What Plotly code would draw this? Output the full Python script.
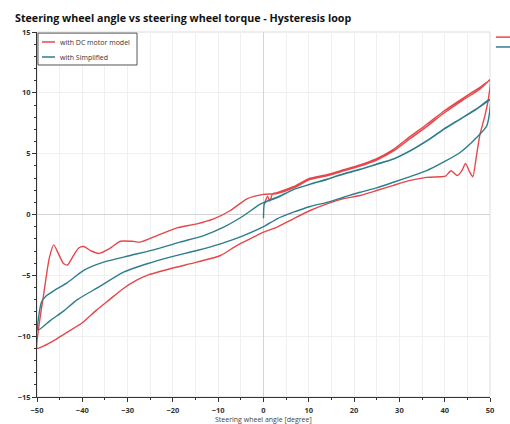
import plotly.graph_objects as go

# Steering wheel angle [deg] / torque [Nm] traces of the hysteresis loop

# DC motor model: first loading from centre, unloading branch, reloading branch
dc_angle = [
    0.3, 0.9, 1.4, 2.0, 3.0, 6.6, 10.3, 14.0, 17.7, 21.3, 25.0, 28.7, 32.4, 36.0, 40.0, 44.0, 47.8, 50.0,
    49.6, 48.8, 47.8, 47.0, 46.2, 45.5, 44.6, 43.8, 42.8, 41.4, 40.2, 39.0, 36.0, 32.4, 28.7, 25.0,
    21.3, 17.7, 14.0, 10.3, 6.6, 3.0, 0.0, -2.2, -5.9, -9.5, -14.7, -20.6, -25.7, -28.0, -31.0, -34.0,
    -37.0, -40.0, -43.0, -46.0, -48.5, -50.0,
    -49.7, -48.5, -47.3, -46.3, -45.3, -44.2, -43.3, -42.0, -40.8, -39.7, -38.0, -36.4, -34.0, -31.6,
    -29.0, -27.2, -23.5, -19.1, -14.7, -11.0, -7.3, -3.65, 0.0, 3.0, 6.6, 10.3, 14.0, 17.7, 21.3, 25.0,
    28.7, 32.4, 36.0, 40.0, 44.0, 47.8, 50.0,
]
dc_torque = [
    1.0, 1.5, 1.1, 1.7, 1.8, 2.28, 2.98, 3.28, 3.68, 4.08, 4.6, 5.36, 6.42, 7.4, 8.55, 9.55, 10.45, 11.0,
    9.4, 8.0, 6.6, 4.8, 3.1, 3.5, 4.2, 3.6, 3.2, 3.6, 3.15, 3.1, 3.05, 2.8, 2.4, 1.97,
    1.56, 1.3, 0.88, 0.33, -0.35, -1.04, -1.45, -1.86, -2.55, -3.37, -3.92, -4.46, -5.0, -5.4, -6.1, -7.0,
    -7.9, -8.9, -9.6, -10.3, -10.8, -11.0,
    -9.5, -6.5, -3.6, -2.5, -3.2, -4.0, -4.15, -3.4, -2.75, -2.63, -3.0, -3.2, -2.8, -2.2,
    -2.2, -2.27, -1.73, -1.1, -0.77, -0.36, 0.33, 1.29, 1.65, 1.72, 2.18, 2.88, 3.18, 3.58, 3.98, 4.48,
    5.22, 6.25, 7.22, 8.38, 9.4, 10.32, 11.1,
]

# Simplified model: same manoeuvre
simp_angle = [
    0.0, 0.2, 0.8, 3.0, 6.6, 10.3, 14.0, 17.7, 21.3, 25.0, 28.7, 32.4, 36.0, 39.7, 43.4, 47.1, 50.0,
    49.3, 47.1, 43.4, 39.7, 36.0, 32.4, 28.7, 25.0, 21.3, 17.7, 14.0, 10.3, 6.6, 3.0, 0.0, -4.4, -9.5,
    -14.7, -20.6, -25.7, -30.9, -36.4, -41.1, -44.0, -47.0, -49.8,
    -49.0, -48.0, -46.0, -43.3, -39.7, -35.3, -29.4, -23.5, -18.4, -13.2, -8.8, -4.4, -0.7, 3.0, 6.6,
    10.3, 14.0, 17.7, 21.3, 25.0, 28.7, 32.4, 36.0, 39.7, 43.4, 47.1, 50.0,
]
simp_torque = [
    -0.3, 0.9, 1.1, 1.42, 2.05, 2.5, 2.9, 3.35, 3.72, 4.15, 4.58, 5.25, 6.05, 7.0, 7.85, 8.7, 9.45,
    7.3, 6.35, 5.1, 4.3, 3.6, 3.12, 2.65, 2.19, 1.83, 1.42, 1.0, 0.66, 0.19, -0.35, -1.0, -1.73, -2.41,
    -2.96, -3.5, -4.05, -4.74, -5.97, -7.0, -7.9, -8.7, -9.5,
    -7.2, -6.7, -6.2, -5.6, -4.6, -3.92, -3.37, -2.82, -2.27, -1.73, -1.04, -0.1, 0.85, 1.38, 2.05,
    2.48, 2.88, 3.33, 3.7, 4.13, 4.55, 5.22, 6.02, 6.97, 7.82, 8.68, 9.45,
]

series_names = ["with DC motor model", "with Simplified"]

RED = "#e5474b"
TEAL = "#2d7d8d"
FONT = "Open Sans"
GRID = "#f0f0f0"

fig = go.Figure()
for xs, ys, name, col in [(dc_angle, dc_torque, series_names[0], RED),
                          (simp_angle, simp_torque, series_names[1], TEAL)]:
    fig.add_trace(go.Scatter(x=xs, y=ys, mode="lines", name=name, showlegend=False,
                             line=dict(color=col, width=1.4, shape="spline", smoothing=0.6)))

fig.update_layout(
    width=510, height=424,
    margin=dict(l=37, r=20, t=32, b=27),
    paper_bgcolor="white", plot_bgcolor="white",
    font=dict(family=FONT, color="#333"),
    title=dict(text="Steering wheel angle vs steering wheel torque - Hysteresis loop",
               font=dict(size=10.7, weight="bold", color="#111", family=FONT),
               xref="container", yref="container", x=15 / 510, y=1 - 18 / 424,
               xanchor="left", yanchor="middle"),
    xaxis=dict(
        range=[-50, 50], dtick=10, tick0=0, automargin=False,
        showline=True, linecolor="#333", linewidth=1,
        ticks="outside", ticklen=4, tickcolor="#333", ticklabelstandoff=2,
        tickfont=dict(size=7.5, weight="bold", color="#333"),
        showgrid=True, gridcolor=GRID, gridwidth=1,
        zeroline=True, zerolinecolor="#d4d4d4", zerolinewidth=1,
        minor=dict(dtick=5, ticks="outside", ticklen=2, tickcolor="#333",
                   showgrid=True, gridcolor=GRID),
    ),
    yaxis=dict(
        range=[-15, 15], dtick=5, tick0=0, automargin=False,
        showline=True, linecolor="#333", linewidth=1,
        ticks="outside", ticklen=4, tickcolor="#333",
        tickfont=dict(size=7.5, weight="bold", color="#333"),
        showgrid=True, gridcolor=GRID, gridwidth=1,
        zeroline=True, zerolinecolor="#d4d4d4", zerolinewidth=1,
        minor=dict(dtick=1, ticks="outside", ticklen=2, tickcolor="#333", showgrid=False),
    ),
    # extra horizontal grid at half-major spacing
    yaxis2=dict(
        overlaying="y", anchor="x", range=[-15, 15], dtick=2.5, tick0=0, automargin=False,
        showgrid=True, gridcolor=GRID, showticklabels=False, ticks="",
        showline=False, zeroline=False, layer="below traces",
    ),
)

# x-axis title placed in the narrow bottom margin
fig.add_annotation(xref="paper", yref="paper", x=0.5, y=-0.0603, text="Steering wheel angle [degree]",
                   showarrow=False, xanchor="center", yanchor="middle",
                   font=dict(size=7, color="#444", family=FONT))

# light frame on the top and right of the plot area
fig.add_shape(type="rect", xref="paper", yref="paper", x0=0, y0=0, x1=1, y1=1,
              line=dict(color="#dcdcdc", width=1), layer="below")

# compact legend box in the upper-left corner
fig.add_shape(type="rect", xref="paper", yref="paper", x0=0.0022, x1=0.2208, y0=0.9096, y1=0.997,
              line=dict(color="#555", width=1), fillcolor="white", layer="above")
for yy, name, col in [(0.9726, series_names[0], RED), (0.9315, series_names[1], TEAL)]:
    fig.add_shape(type="line", xref="paper", yref="paper", x0=0.011, x1=0.0397, y0=yy, y1=yy,
                  line=dict(color=col, width=1.5), layer="above")
    fig.add_annotation(xref="paper", yref="paper", x=0.0464, y=yy, text=name, showarrow=False,
                       xanchor="left", yanchor="middle", font=dict(size=7, color="#333", family=FONT))

# second legend strip partially visible at the right edge
for yy, col in [(0.986, RED), (0.959, TEAL)]:
    fig.add_shape(type="line", xref="paper", yref="paper", x0=1.013, x1=1.06, y0=yy, y1=yy,
                  line=dict(color=col, width=1.5))

fig.write_html("out.html")
